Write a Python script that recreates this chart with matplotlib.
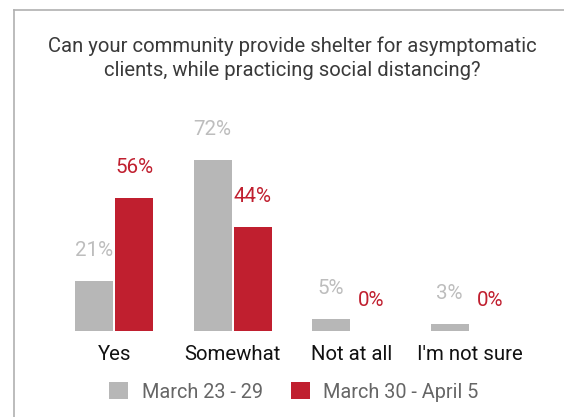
import matplotlib
matplotlib.use("Agg")
import matplotlib.pyplot as plt
from matplotlib.lines import Line2D
import numpy as np

categories = ["Yes", "Somewhat", "Not at all", "I'm not sure"]
series_names = ["March 23 - 29", "March 30 - April 5"]
week1 = [21, 72, 5, 3]
week2 = [56, 44, 0, 0]
title = "Can your community provide shelter for asymptomatic\nclients, while practicing social distancing?"

colors = ["#b7b7b7", "#c01f2f"]
label_colors = ["#bdbdbd", "#c01f2f"]

plt.rcParams['font.family'] = ['Roboto', 'DejaVu Sans']

W, H = 564, 417
fig = plt.figure(figsize=(W / 100, H / 100), dpi=100)
fig.patch.set_facecolor("white")

# card border (left and top)
fig.add_artist(Line2D([13.5 / W, 13.5 / W], [0, 1 - 9.5 / H], transform=fig.transFigure,
                      color="#b0b0b0", lw=1.2))
fig.add_artist(Line2D([13.5 / W, 1], [1 - 9.5 / H, 1 - 9.5 / H], transform=fig.transFigure,
                      color="#b0b0b0", lw=1.2))

ax = fig.add_axes([55 / W, 86 / H, 474 / W, 237.5 / H])
x = np.arange(len(categories))
bw = 0.32
gap = 0.01
for i, (vals, c, lc, name) in enumerate(zip([week1, week2], colors, label_colors, series_names)):
    off = (-1 if i == 0 else 1) * (bw / 2 + gap)
    bars = ax.bar(x + off, vals, width=bw, color=c, label=name)
    for xi, v in zip(x + off, vals):
        ax.annotate(f"{v}%", (xi, v), xytext=(0, 18), textcoords="offset points",
                    ha="center", va="baseline", fontsize=14.8, color=lc)

ax.set_xlim(-0.5, 3.5)
ax.set_ylim(0, 100)
ax.set_xticks(x)
ax.set_xticklabels(categories, fontsize=14.7, color="#111111")
ax.tick_params(axis="x", length=0, pad=10)
ax.set_yticks([])
for s in ax.spines.values():
    s.set_visible(False)

fig.text(292 / W, 1 - 58 / H, title, ha="center", va="center", fontsize=14.6,
         color="#3a3a3a", linespacing=1.35)

handles, labels = ax.get_legend_handles_labels()
leg = fig.legend(handles, labels, loc="center", bbox_to_anchor=(294 / W, 25 / H), ncol=2,
                 frameon=False, fontsize=14.3, handlelength=0.95, handleheight=0.95,
                 handletextpad=0.7, columnspacing=1.4)
for t in leg.get_texts():
    t.set_color("#666666")

fig.savefig("out.png", dpi=100)
